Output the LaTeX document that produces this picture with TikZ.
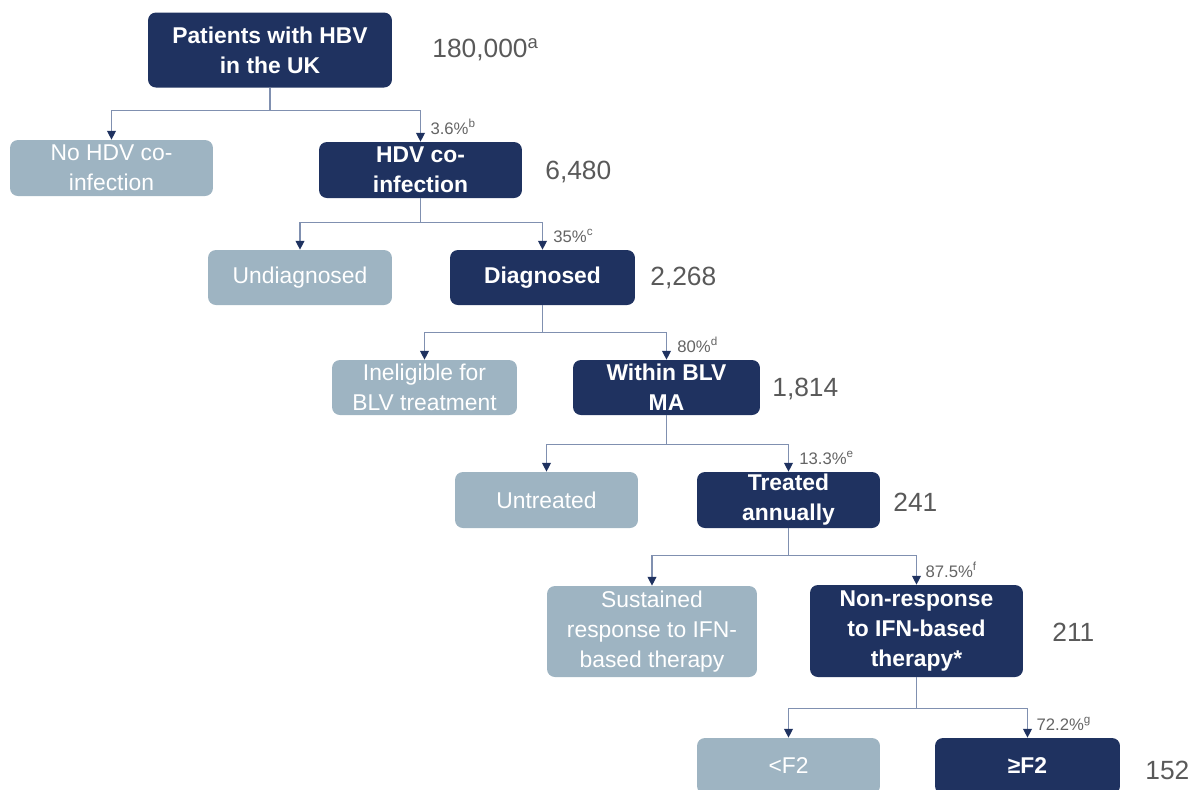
\documentclass[tikz,border=0pt]{standalone}
\usepackage{fontspec}
\setmainfont{Liberation Sans}
\usetikzlibrary{arrows.meta}

\definecolor{navy}{RGB}{31,50,96}
\definecolor{paleblue}{RGB}{158,180,194}
\definecolor{linkgray}{RGB}{128,144,176}
\definecolor{numgray}{RGB}{89,89,89}
\definecolor{pctgray}{RGB}{100,100,100}

\tikzset{
  box/.style={rounded corners=4.5pt, inner sep=0pt, align=center, text=white,
    font=\fontsize{13}{17}\selectfont},
  darkbox/.style={box, fill=navy, font=\bfseries\fontsize{13}{17}\selectfont},
  lightbox/.style={box, fill=paleblue},
  count/.style={anchor=west, inner sep=0pt, text=numgray, font=\fontsize{15}{18}\selectfont},
  pct/.style={anchor=south west, inner sep=0pt, text=pctgray, font=\fontsize{9.5}{11}\selectfont},
  link/.style={draw=linkgray, line width=0.7pt},
  flow/.style={link, -{Triangle[length=5pt,width=5pt,color=navy]}},
}

\begin{document}
\begin{tikzpicture}[x=0.02cm, y=-0.02cm]
    \useasboundingbox (0,0) rectangle (1194,789);

    % Patients with HBV
    \node[darkbox, minimum width=4.88cm, minimum height=1.5cm] (hbv) at (270,50) {Patients with HBV\\in the UK};
    \node[count] (nhbv) at (432,50) {180,000\textsuperscript{a}};

    % HDV co-infection
    \node[lightbox, minimum width=4.06cm, minimum height=1.12cm] (nohdv) at (111.5,168) {No HDV co-\\infection};
    \node[darkbox, minimum width=4.06cm, minimum height=1.12cm] (hdv) at (420.5,170) {HDV co-\\infection};
    \node[count] (nhdv) at (545,172) {6,480};
    \draw[link] (hbv.south) -- ++(0,22.5) coordinate (s1);
    \draw[flow] (s1) -| (nohdv.north);
    \draw[flow] (s1) -| (hdv.north);
    \node[pct] (phdv) at ([xshift=5.5pt,yshift=4pt]hdv.north) {3.6\%\textsuperscript{b}};

    % Diagnosis
    \node[lightbox, minimum width=3.68cm, minimum height=1.1cm] (undiag) at (300,277.5) {Undiagnosed};
    \node[darkbox, minimum width=3.7cm, minimum height=1.1cm] (diag) at (542.5,277.5) {Diagnosed};
    \node[count] (ndiag) at (650,278) {2,268};
    \draw[link] (hdv.south) -- ++(0,24) coordinate (s2);
    \draw[flow] (s2) -| (undiag.north);
    \draw[flow] (s2) -| (diag.north);
    \node[pct] (pdiag) at ([xshift=6pt,yshift=4pt]diag.north) {35\%\textsuperscript{c}};

    % BLV marketing authorisation
    \node[lightbox, minimum width=3.7cm, minimum height=1.1cm] (inelig) at (424.5,387.5) {Ineligible for\\BLV treatment};
    \node[darkbox, minimum width=3.74cm, minimum height=1.1cm] (within) at (666.5,387.5) {Within BLV\\MA};
    \node[count] (nwithin) at (772,389) {1,814};
    \draw[link] (diag.south) -- ++(0,27) coordinate (s3);
    \draw[flow] (s3) -| (inelig.north);
    \draw[flow] (s3) -| (within.north);
    \node[pct] (pwithin) at ([xshift=6pt,yshift=4pt]within.north) {80\%\textsuperscript{d}};

    % Treatment
    \node[lightbox, minimum width=3.66cm, minimum height=1.12cm] (untreat) at (546.5,500) {Untreated};
    \node[darkbox, minimum width=3.66cm, minimum height=1.12cm] (treat) at (788.5,500) {Treated\\annually};
    \node[count] (ntreat) at (893,502) {241};
    \draw[link] (within.south) -- ++(0,29) coordinate (s4);
    \draw[flow] (s4) -| (untreat.north);
    \draw[flow] (s4) -| (treat.north);
    \node[pct] (ptreat) at ([xshift=6pt,yshift=4pt]treat.north) {13.3\%\textsuperscript{e}};

    % Response to IFN
    \node[lightbox, minimum width=4.2cm, minimum height=1.82cm] (sustain) at (652,631.5) {Sustained\\response to IFN-\\based therapy};
    \node[darkbox, minimum width=4.26cm, minimum height=1.84cm] (nonresp) at (916.5,631) {Non-response\\to IFN-based\\therapy*};
    \node[count] (nnonresp) at (1052,632) {211};
    \draw[link] (treat.south) -- ++(0,27) coordinate (s5);
    \draw[flow] (s5) -| (sustain.north);
    \draw[flow] (s5) -| (nonresp.north);
    \node[pct] (pnonresp) at ([xshift=5pt,yshift=4pt]nonresp.north) {87.5\%\textsuperscript{f}};

    % Fibrosis stage
    \node[lightbox, minimum width=3.66cm, minimum height=1.12cm] (lowf) at (788.5,766) {<F2};
    \node[darkbox, minimum width=3.7cm, minimum height=1.12cm] (highf) at (1027.5,766) {≥F2};
    \node[count] (nhighf) at (1145,770) {152};
    \draw[link] (nonresp.south) -- ++(0,31) coordinate (s6);
    \draw[flow] (s6) -| (lowf.north);
    \draw[flow] (s6) -| (highf.north);
    \node[pct] (phighf) at ([xshift=5pt,yshift=4pt]highf.north) {72.2\%\textsuperscript{g}};
\end{tikzpicture}
\end{document}
